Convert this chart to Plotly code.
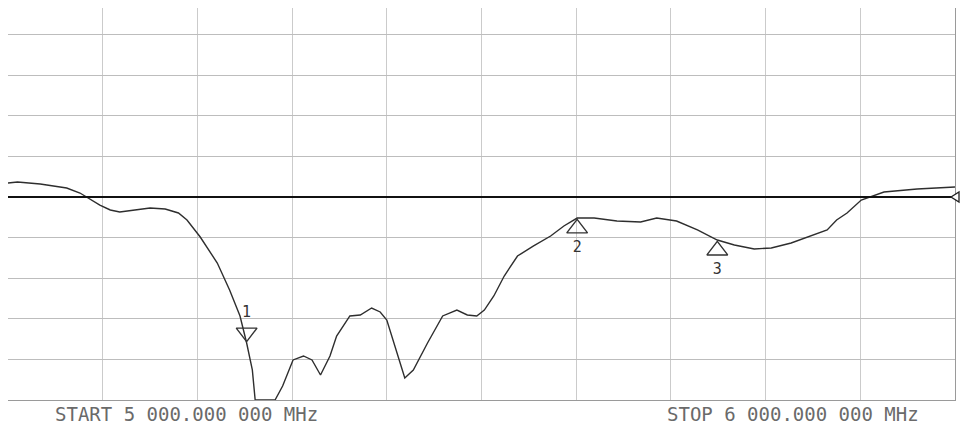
import plotly.graph_objects as go

# ---- data ----
freq_mhz = [5000, 5010, 5034, 5062, 5076, 5087, 5097, 5108, 5118, 5134, 5150, 5166, 5180, 5189,
            5203, 5221, 5234, 5245, 5252, 5258, 5261, 5282, 5290, 5301, 5312, 5321, 5330, 5340,
            5347, 5361, 5372, 5384, 5393, 5400, 5411, 5419, 5428, 5443, 5459, 5474, 5485, 5495,
            5503, 5513, 5524, 5538, 5555, 5573, 5587, 5601, 5619, 5643, 5668, 5685, 5706, 5728,
            5749, 5767, 5788, 5806, 5827, 5848, 5865, 5875, 5886, 5901, 5925, 5960, 6000]
level_db = [1.72, 1.85, 1.60, 1.11, 0.49, -0.25, -0.99, -1.60, -1.85, -1.60, -1.35, -1.48, -1.97, -2.83,
            -4.93, -8.13, -11.45, -14.65, -17.98, -21.30, -25.0, -25.0, -23.28, -20.07, -19.58, -20.07, -21.92, -19.58,
            -17.12, -14.65, -14.53, -13.67, -14.16, -15.15, -19.21, -22.29, -21.30, -17.98, -14.65, -13.92, -14.53, -14.65,
            -13.92, -12.19, -9.73, -7.27, -6.03, -4.80, -3.57, -2.59, -2.59, -2.96, -3.08, -2.59, -2.96, -4.06,
            -5.30, -5.91, -6.40, -6.28, -5.66, -4.80, -4.06, -2.83, -1.97, -0.37, 0.62, 0.99, 1.23]

marker_ids = ["1", "2", "3"]
marker_freq = [5252, 5601, 5749]
marker_level = [-17.98, -2.59, -5.30]

ref_level = 0.0
start_label = "START 5 000.000 000 MHz"
stop_label = "STOP 6 000.000 000 MHz"

# ---- style constants ----
PX_PER_DB = 40.6 / 5.0
PLOT_H = 392
Y_MIN = -25
Y_MAX = Y_MIN + PLOT_H / PX_PER_DB
TRI_SIZE = 18
TRI_HALF_H = TRI_SIZE / 2 * 2 / 3 ** 0.5  # distance from centre to apex (plotly triangle)
FONT = "DejaVu Sans Mono"

fig = go.Figure()

fig.add_trace(go.Scatter(x=freq_mhz, y=level_db, mode="lines",
                         line=dict(color="#2e2e2e", width=1.4), showlegend=False,
                         hoverinfo="skip"))

off = TRI_HALF_H / PX_PER_DB
# marker 1: downward triangle sitting on the trace, label above
fig.add_trace(go.Scatter(x=[marker_freq[0]], y=[marker_level[0] + off], mode="markers+text",
                         marker=dict(symbol="triangle-down-open", size=TRI_SIZE,
                                     color="#333", line=dict(width=1.4, color="#333")),
                         text=[marker_ids[0]], textposition="top center",
                         textfont=dict(family=FONT, size=15, color="#333"),
                         showlegend=False, cliponaxis=False))
# markers 2, 3: upward triangles below the trace, labels below
fig.add_trace(go.Scatter(x=marker_freq[1:], y=[v - off for v in marker_level[1:]],
                         mode="markers+text",
                         marker=dict(symbol="triangle-up-open", size=TRI_SIZE,
                                     color="#333", line=dict(width=1.4, color="#333")),
                         text=marker_ids[1:], textposition="bottom center",
                         textfont=dict(family=FONT, size=15, color="#333"),
                         showlegend=False, cliponaxis=False))

# reference line and its level indicator on the right edge
fig.add_shape(type="line", xref="paper", x0=0, x1=1, yref="y", y0=ref_level, y1=ref_level,
              line=dict(color="#111", width=2))
ref_frac = (ref_level - Y_MIN) / (Y_MAX - Y_MIN)
fig.add_shape(type="path", xref="paper", yref="paper", xsizemode="pixel", ysizemode="pixel",
              xanchor=1, yanchor=ref_frac, path="M -4 0 L 4 5 L 4 -5 Z",
              line=dict(color="#222", width=1.3), fillcolor="white", layer="above")

fig.add_annotation(xref="paper", x=0.0475, xanchor="left", yref="paper", y=0, yanchor="middle",
                   yshift=-14, text=start_label, showarrow=False,
                   font=dict(family=FONT, size=19, color="#6a6a6a"))
fig.add_annotation(xref="paper", x=0.964, xanchor="right", yref="paper", y=0, yanchor="middle",
                   yshift=-14, text=stop_label, showarrow=False,
                   font=dict(family=FONT, size=19, color="#6a6a6a"))

fig.update_xaxes(range=[5000, 6000], dtick=100, tick0=5000, showgrid=True, gridcolor="#cbcbcb",
                 gridwidth=1, showticklabels=False, ticks="", zeroline=False,
                 showline=True, linecolor="#9a9a9a", linewidth=1, mirror=False)
fig.update_yaxes(range=[Y_MIN, Y_MAX], dtick=5, tick0=-25, showgrid=True,
                 gridcolor="#bdbdbd", gridwidth=1, showticklabels=False, ticks="",
                 zeroline=False, showline=True, linecolor="#9a9a9a", linewidth=1, mirror=True)

fig.update_layout(width=960, height=418, margin=dict(l=0, r=13, t=0, b=418 - PLOT_H),
                  plot_bgcolor="white", paper_bgcolor="white")

fig.write_html("out.html")
